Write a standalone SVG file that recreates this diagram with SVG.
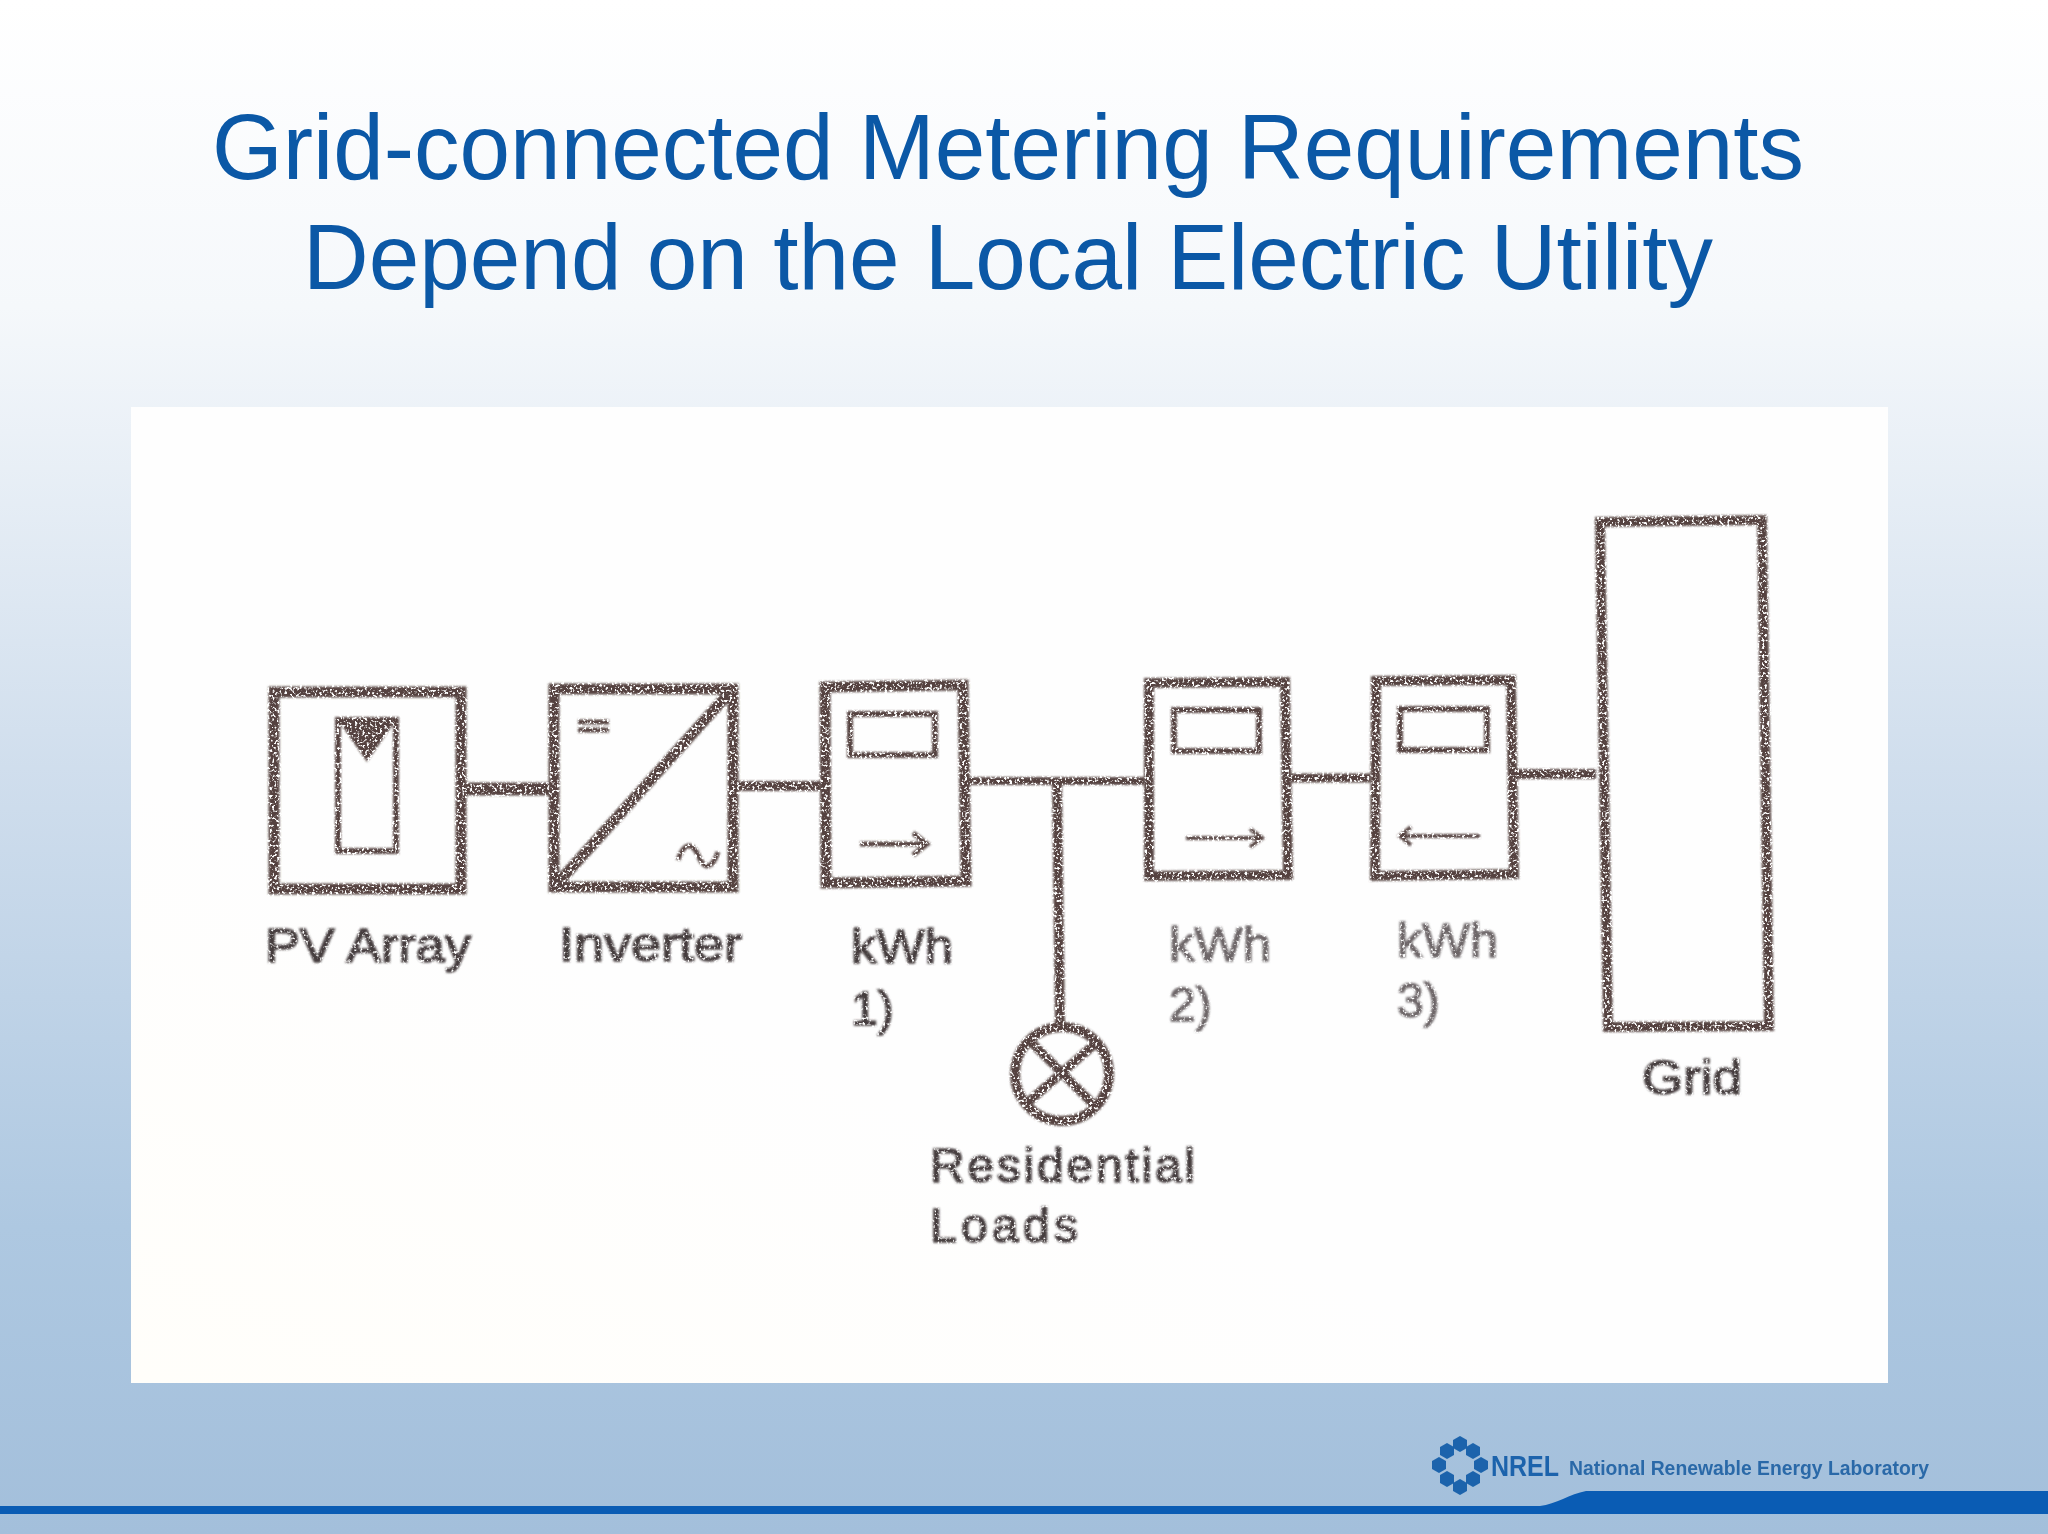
<svg xmlns="http://www.w3.org/2000/svg" width="2048" height="1534" viewBox="0 0 2048 1534">
<defs>
<linearGradient id="bg" x1="0" y1="0" x2="0" y2="1"><stop offset="0" stop-color="#ffffff"/><stop offset="0.2" stop-color="#f5f8fb"/><stop offset="0.5" stop-color="#d0deed"/><stop offset="0.8" stop-color="#aec8e1"/><stop offset="1" stop-color="#a3bfdb"/></linearGradient>
<linearGradient id="tint" x1="0" y1="1" x2="0.3" y2="0.6"><stop offset="0" stop-color="#fffefa"/><stop offset="1" stop-color="#fefefe"/></linearGradient>
<filter id="scan" filterUnits="userSpaceOnUse" x="0" y="0" width="2048" height="1534">
<feGaussianBlur in="SourceGraphic" stdDeviation="0.8" result="b"/>
<feTurbulence type="fractalNoise" baseFrequency="0.4" numOctaves="2" seed="4" result="n"/>
<feColorMatrix in="n" type="matrix" values="0 0 0 0 0  0 0 0 0 0  0 0 0 0 0  0 0 0 -6.5 4.4" result="m"/>
<feComposite in="b" in2="m" operator="in"/>
<feGaussianBlur stdDeviation="0.6"/>
</filter>
<filter id="scanText" filterUnits="userSpaceOnUse" x="0" y="0" width="2048" height="1534">
<feGaussianBlur in="SourceGraphic" stdDeviation="0.9" result="b"/>
<feTurbulence type="fractalNoise" baseFrequency="0.35" numOctaves="2" seed="9" result="n"/>
<feColorMatrix in="n" type="matrix" values="0 0 0 0 0  0 0 0 0 0  0 0 0 0 0  0 0 0 -4.5 3.4" result="m"/>
<feComposite in="b" in2="m" operator="in"/>
</filter>
<filter id="soft" filterUnits="userSpaceOnUse" x="0" y="0" width="2048" height="1534"><feGaussianBlur stdDeviation="0.6"/></filter>
<path id="diamond" d="M0 -8L7 -4V4L0 8L-7 4V-4Z"/>
</defs>
<style>
.title{font-family:"Liberation Sans",Arial,sans-serif;font-size:92px;fill:#0b58a6}
.ink{fill:none;stroke:#54433f;stroke-linejoin:miter}
.fill{fill:#54433f}
.lbl{font-family:"Liberation Sans",Arial,sans-serif;font-size:48px;fill:#453c3e;stroke:#453c3e;stroke-width:1.6px}
.lbl2{font-family:"Liberation Sans",Arial,sans-serif;font-size:48px;fill:#6d6668;stroke:#6d6668;stroke-width:1.4px}
.w11{stroke-width:11px}.w10{stroke-width:10px}.w9{stroke-width:9px}.w8{stroke-width:8px}.w6{stroke-width:6px}.w5{stroke-width:5px}.w4{stroke-width:4px}
.lab{font-family:"Liberation Sans",Arial,sans-serif;font-weight:bold;fill:#2a69a8}
</style>
<rect width="2048" height="1534" fill="url(#bg)"/>
<g id="footer-band"><path d="M0 1506H1540C1556 1504 1570 1494 1586 1491H2048V1514H0Z" fill="#0a5cb4"/></g>
<g id="title"><text class="title" x="212" y="179" textLength="1592" lengthAdjust="spacingAndGlyphs">Grid-connected Metering Requirements</text><text class="title" x="303" y="289" textLength="1410" lengthAdjust="spacingAndGlyphs">Depend on the Local Electric Utility</text></g>
<rect id="panel" x="131" y="407" width="1757" height="976" fill="url(#tint)"/>
<g id="connectors" filter="url(#scan)">
<path class="ink" stroke-width="13" d="M465 789H550"/>
<path class="ink w10" d="M737 786H821"/>
<path class="ink w8" d="M968 781H1145"/>
<path class="ink w9" d="M1290 778H1371"/>
<path class="ink w10" d="M1515 774H1596"/>
<path class="ink w10" d="M1057 781L1060 1026"/>
</g>
<g id="pv-array">
<g filter="url(#scan)">
<rect class="ink w11" x="274" y="692" width="187" height="197"/>
<rect class="ink w6" x="338" y="720" width="58" height="131"/>
<path class="fill" d="M338 720H396L367 762Z"/>
</g>
<text class="lbl" x="265" y="962" textLength="206" lengthAdjust="spacingAndGlyphs" filter="url(#scanText)">PV Array</text>
</g>
<g id="inverter">
<g filter="url(#scan)">
<rect class="ink w11" x="554" y="689" width="179" height="198"/>
<path class="ink w11" d="M556 885L730 692"/>
<path class="ink w5" d="M578 722H609M578 730H609"/>
<path class="ink w5" d="M678 860C684 842 692 842 698 855C704 870 712 870 718 852"/>
</g>
<text class="lbl" x="559" y="961" textLength="183" lengthAdjust="spacingAndGlyphs" filter="url(#scanText)">Inverter</text>
</g>
<g id="meter-1">
<g filter="url(#scan)">
<path class="ink w11" d="M825 687L963 685L966 881L826 883Z"/>
<rect class="ink w6" x="850" y="714" width="85" height="41"/>
<path class="ink w5" d="M860 844H925M913 833L927 844L913 855"/>
</g>
<g filter="url(#scanText)"><text class="lbl" x="851" y="963" textLength="102" lengthAdjust="spacingAndGlyphs">kWh</text>
<text class="lbl" x="851" y="1025">1)</text></g>
</g>
<g id="meter-2">
<g filter="url(#scan)">
<path class="ink w10" d="M1149 683L1285 682L1288 875L1149 876Z"/>
<rect class="ink w6" x="1174" y="710" width="85" height="41"/>
<path class="ink w4" d="M1186 838H1260M1250 829L1262 838L1250 847"/>
</g>
<g filter="url(#scanText)"><text class="lbl2" x="1169" y="961" textLength="102" lengthAdjust="spacingAndGlyphs">kWh</text>
<text class="lbl2" x="1169" y="1021">2)</text></g>
</g>
<g id="meter-3">
<g filter="url(#scan)">
<path class="ink w10" d="M1376 681L1511 680L1514 874L1375 876Z"/>
<rect class="ink w6" x="1400" y="709" width="87" height="41"/>
<path class="ink w4" d="M1401 836H1480M1411 827L1400 836L1411 845"/>
</g>
<g filter="url(#scanText)"><text class="lbl2" x="1397" y="957" textLength="101" lengthAdjust="spacingAndGlyphs">kWh</text>
<text class="lbl2" x="1397" y="1017">3)</text></g>
</g>
<g id="grid">
<path class="ink w10" d="M1600 522L1762 520L1769 1026L1608 1027Z" filter="url(#scan)"/>
<text class="lbl" x="1642" y="1094" textLength="100" lengthAdjust="spacingAndGlyphs" filter="url(#scanText)">Grid</text>
</g>
<g id="residential-loads">
<g filter="url(#scan)">
<circle class="ink w10" cx="1062" cy="1074" r="47"/>
<path class="ink w9" d="M1032 1043L1097 1108M1096 1043L1026 1104"/>
</g>
<g filter="url(#scanText)"><text class="lbl" x="930" y="1182" textLength="265" lengthAdjust="spacing">Residential</text>
<text class="lbl" x="930" y="1242" textLength="148" lengthAdjust="spacing">Loads</text></g>
</g>
<g id="nrel-logo" filter="url(#soft)" fill="#1f64ac">
<use href="#diamond" x="1460" y="1444"/><use href="#diamond" x="1460" y="1487"/><use href="#diamond" x="1439" y="1465"/><use href="#diamond" x="1481" y="1465"/>
<use href="#diamond" x="1447" y="1451"/><use href="#diamond" x="1473" y="1451"/><use href="#diamond" x="1447" y="1479"/><use href="#diamond" x="1473" y="1479"/>
<text class="lab" x="1491" y="1476" font-size="30" textLength="68" lengthAdjust="spacingAndGlyphs" style="fill:#1f64ac">NREL</text>
<text class="lab" x="1569" y="1475" font-size="20" textLength="360" lengthAdjust="spacingAndGlyphs">National Renewable Energy Laboratory</text>
</g>
</svg>
